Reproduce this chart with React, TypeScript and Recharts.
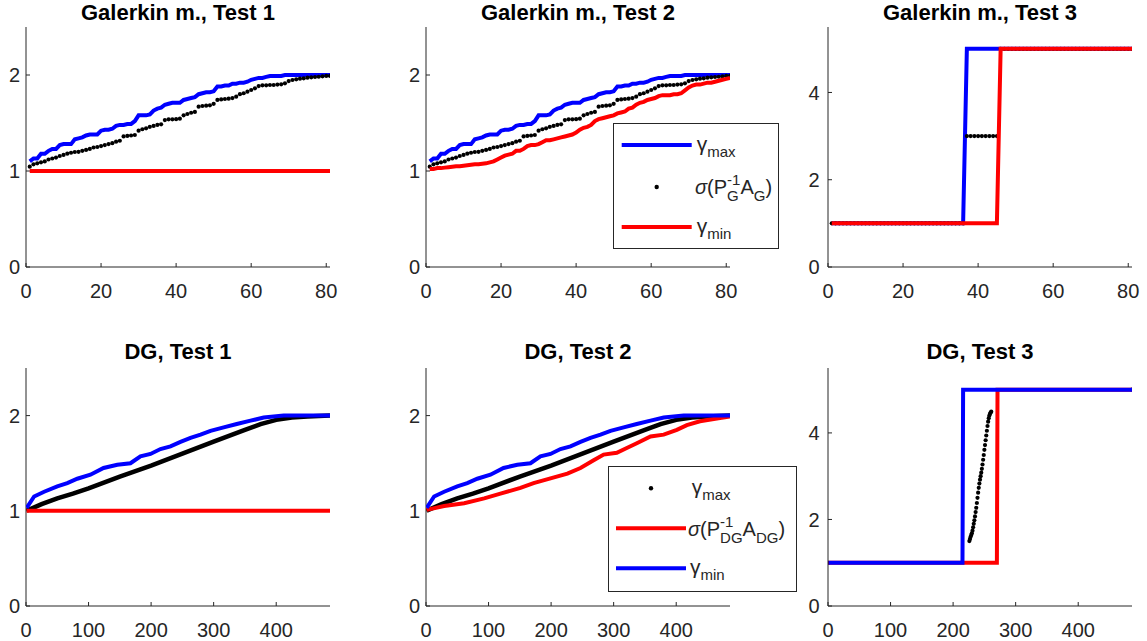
import React from 'react';
import { ComposedChart, Line, XAxis, YAxis } from 'recharts';

// ---------- Galerkin (81 eigenvalues, index 1..81) ----------
const G_SIGMA = [
  1.045, 1.07, 1.08, 1.09, 1.10, 1.12, 1.13, 1.14, 1.156, 1.167,
  1.18, 1.19, 1.198, 1.20, 1.21, 1.22, 1.23, 1.245, 1.25, 1.26,
  1.27, 1.28, 1.29, 1.305, 1.315, 1.36, 1.365, 1.37, 1.375, 1.42,
  1.435, 1.445, 1.46, 1.47, 1.48, 1.486, 1.53, 1.538, 1.538, 1.54,
  1.545, 1.58, 1.594, 1.607, 1.615, 1.67, 1.677, 1.68, 1.684, 1.70,
  1.74, 1.746, 1.75, 1.753, 1.76, 1.774, 1.80, 1.81, 1.826, 1.844,
  1.861, 1.885, 1.892, 1.892, 1.896, 1.896, 1.90, 1.903, 1.913, 1.937,
  1.948, 1.955, 1.962, 1.965, 1.972, 1.976, 1.979, 1.982, 1.986, 1.99,
  1.99,
];
const G_GAMMA_MAX = [
  1.10, 1.13, 1.13, 1.18, 1.18, 1.21, 1.23, 1.23, 1.27, 1.28,
  1.28, 1.28, 1.33, 1.34, 1.35, 1.37, 1.38, 1.38, 1.38, 1.42,
  1.43, 1.43, 1.44, 1.47, 1.48, 1.48, 1.49, 1.49, 1.52, 1.58,
  1.58, 1.58, 1.59, 1.63, 1.65, 1.66, 1.69, 1.70, 1.71, 1.71,
  1.71, 1.74, 1.75, 1.76, 1.77, 1.80, 1.81, 1.82, 1.82, 1.83,
  1.88, 1.88, 1.89, 1.89, 1.91, 1.91, 1.92, 1.92, 1.93, 1.95,
  1.96, 1.97, 1.97, 1.98, 1.99, 1.99, 1.99, 1.99, 2.0, 2.0,
  2.0, 2.0, 2.0, 2.0, 2.0, 2.0, 2.0, 2.0, 2.0, 2.0,
  2.0,
];
const G2_GAMMA_MIN = [
  1.02, 1.02, 1.03, 1.03, 1.035, 1.04, 1.045, 1.05, 1.05, 1.055,
  1.06, 1.065, 1.07, 1.07, 1.075, 1.08, 1.09, 1.10, 1.12, 1.14,
  1.16, 1.17, 1.18, 1.21, 1.21, 1.23, 1.26, 1.27, 1.27, 1.28,
  1.30, 1.32, 1.32, 1.33, 1.34, 1.35, 1.36, 1.37, 1.38, 1.40,
  1.43, 1.45, 1.46, 1.48, 1.52, 1.54, 1.55, 1.56, 1.57, 1.58,
  1.60, 1.61, 1.62, 1.65, 1.66, 1.69, 1.71, 1.72, 1.74, 1.75,
  1.76, 1.78, 1.79, 1.79, 1.79, 1.80, 1.80, 1.81, 1.84, 1.87,
  1.89, 1.90, 1.90, 1.91, 1.92, 1.92, 1.93, 1.94, 1.95, 1.96,
  1.97,
];
const G1_GMIN_X = [1, 81];
const G1_GMIN_Y = [1, 1];
const G3_SIGMA = [
  1, 1, 1, 1, 1, 1, 1, 1, 1, 1, 1, 1, 1, 1, 1, 1, 1, 1,
  1, 1, 1, 1, 1, 1, 1, 1, 1, 1, 1, 1, 1, 1, 1, 1, 1, 1,
  3, 3, 3, 3, 3, 3, 3, 3, 3,
  5, 5, 5, 5, 5, 5, 5, 5, 5, 5, 5, 5, 5, 5, 5, 5, 5, 5,
  5, 5, 5, 5, 5, 5, 5, 5, 5, 5, 5, 5, 5, 5, 5, 5, 5, 5,
];
const G3_GMAX_X = [1, 36, 37, 81];
const G3_GMAX_Y = [1, 1, 5, 5];
const G3_GMIN_X = [1, 45, 46, 81];
const G3_GMIN_Y = [1, 1, 5, 5];

// ---------- DG (486 eigenvalues) ----------
const DG_SIGMA_X = [1, 25, 50, 75, 100, 150, 200, 250, 300, 350, 375, 400, 425, 450, 486];
const DG_SIGMA_Y = [1.0, 1.07, 1.13, 1.18, 1.236, 1.36, 1.475, 1.6, 1.727, 1.85, 1.91, 1.955, 1.98, 1.99, 2.0];
const DG_GMAX_X = [1, 13, 29, 50, 66, 82, 103, 124, 146, 167, 183, 199, 215, 231, 247, 263, 279, 295, 316, 337, 359, 380, 412, 486];
const DG_GMAX_Y = [1.03, 1.15, 1.2, 1.256, 1.29, 1.337, 1.379, 1.45, 1.484, 1.5, 1.572, 1.597, 1.649, 1.677, 1.723, 1.765, 1.8, 1.84, 1.877, 1.912, 1.947, 1.98, 2.0, 2.0];
const DG1_GMIN_X = [1, 486];
const DG1_GMIN_Y = [1, 1];
const DG2_GMIN_X = [1, 29, 61, 93, 119, 151, 172, 199, 226, 247, 268, 284, 305, 321, 337, 359, 380, 401, 417, 438, 465, 486];
const DG2_GMIN_Y = [1.01, 1.05, 1.08, 1.13, 1.18, 1.24, 1.29, 1.34, 1.39, 1.45, 1.53, 1.59, 1.61, 1.66, 1.71, 1.78, 1.8, 1.85, 1.9, 1.94, 1.97, 1.99];
const DG3_SIGMA_X = [
  1, 226, 227, 228, 229, 230, 231, 232, 233, 234, 235, 236, 237, 238, 239, 240, 241, 242, 243,
  244, 245, 246, 247, 248, 249, 250, 251, 252, 253, 254, 255, 256, 257, 258, 259, 260, 261, 486,
];
const DG3_SIGMA_Y = [
  1, 1.5, 1.55, 1.6, 1.64, 1.68, 1.74, 1.82, 1.9, 1.98, 2.07, 2.17, 2.27, 2.38, 2.5, 2.62, 2.73, 2.83, 2.92,
  3.0, 3.08, 3.17, 3.27, 3.38, 3.49, 3.61, 3.72, 3.83, 3.94, 4.05, 4.16, 4.26, 4.34, 4.4, 4.44, 4.47, 4.49, 5,
];
const DG3_GMAX_X = [1, 215, 216, 486];
const DG3_GMAX_Y = [1, 1, 5, 5];
const DG3_GMIN_X = [1, 270, 271, 486];
const DG3_GMIN_Y = [1, 1, 5, 5];

// ---------- axes ----------
const G_XTICKS = [0, 20, 40, 60, 80];
const DG_XTICKS = [0, 100, 200, 300, 400];
const Y_TICKS_12 = [0, 1, 2];
const Y_TICKS_5 = [0, 2, 4];

const BLUE = '#0000ff';
const RED = '#ff0000';
const AX = '#262626';
const FONT = '"Liberation Sans", Arial, Helvetica, sans-serif';
const TICK_FS = 20;

const fromIndex = (ys: number[]) => ys.map((y, i) => ({ x: i + 1, y }));
const fromXY = (xs: number[], ys: number[]) => xs.map((x, i) => ({ x, y: ys[i] }));

const XTick = (props: any) => {
  const { x, y, payload } = props;
  return (
    <g>
      <line x1={x} y1={y} x2={x} y2={y - 4} stroke={AX} strokeWidth={1} />
      <text x={x} y={y + 30.5} textAnchor="middle" fill={AX} fontSize={TICK_FS} fontFamily={FONT}>
        {payload.value}
      </text>
    </g>
  );
};

const makeYTick = (gap: number) => (props: any) => {
  const { x, y, payload } = props;
  return (
    <g>
      <line x1={x} y1={y} x2={x + 4} y2={y} stroke={AX} strokeWidth={1} />
      <text x={x - gap} y={y} dy="0.36em" textAnchor="end" fill={AX} fontSize={TICK_FS} fontFamily={FONT}>
        {payload.value}
      </text>
    </g>
  );
};

const DotShape = (props: any) => {
  const { cx, cy, index } = props;
  if (cx == null || cy == null) return <g key={`e${index}`} />;
  return <circle key={`d${index}`} cx={cx} cy={cy} r={2.1} fill="#000" stroke="none" />;
};

const lineEl = (key: string, data: any[], color: string, width = 4) => (
  <Line
    key={key}
    data={data}
    dataKey="y"
    type="linear"
    stroke={color}
    strokeWidth={width}
    dot={false}
    activeDot={false}
    isAnimationActive={false}
  />
);
// marker-only series (MATLAB '.' style): no connecting stroke, black dots
const dotsEl = (key: string, data: any[]) => (
  <Line
    key={key}
    data={data}
    dataKey="y"
    type="linear"
    stroke="none"
    strokeWidth={0}
    dot={DotShape}
    activeDot={false}
    isAnimationActive={false}
  />
);

type PanelProps = {
  left: number;
  top: number;
  w: number;
  h: number;
  xMax: number;
  xTicks: number[];
  yMax: number;
  yTicks: number[];
  title: string;
  titleBase: number;
  gap: number;
  layers: React.ReactNode[][]; // drawn bottom to top
};

const ML = 45;
const MR = 20;
const MT = 6;
const MB = 45;

function Panel(p: PanelProps) {
  return (
    <>
      <svg
        style={{ position: 'absolute', left: p.left, top: p.titleBase - 20, overflow: 'visible' }}
        width={p.w}
        height={26}
      >
        <text
          x={p.w / 2}
          y={20}
          textAnchor="middle"
          fontFamily={FONT}
          fontWeight="bold"
          fontSize={22}
          fill="#000"
        >
          {p.title}
        </text>
      </svg>
      {p.layers.map((series, li) => (
        <div key={li} style={{ position: 'absolute', left: p.left - ML, top: p.top - MT }}>
          <ComposedChart
            width={p.w + ML + MR}
            height={p.h + MT + MB}
            margin={{ top: MT, right: MR, left: 0, bottom: 0 }}
          >
            <XAxis
              type="number"
              dataKey="x"
              domain={[0, p.xMax]}
              ticks={p.xTicks}
              interval={0}
              height={MB}
              tickSize={0}
              tickMargin={0}
              tickLine={false}
              axisLine={li === 0 ? { stroke: AX, strokeWidth: 1 } : false}
              tick={li === 0 ? XTick : false}
              allowDataOverflow
            />
            <YAxis
              type="number"
              dataKey="y"
              domain={[0, p.yMax]}
              ticks={p.yTicks}
              interval={0}
              width={ML}
              tickSize={0}
              tickMargin={0}
              tickLine={false}
              axisLine={li === 0 ? { stroke: AX, strokeWidth: 1 } : false}
              tick={li === 0 ? makeYTick(p.gap) : false}
              allowDataOverflow
            />
            {series}
          </ComposedChart>
        </div>
      ))}
    </>
  );
}

type Entry = { kind: 'line' | 'dot'; color: string; y: number; x1: number; x2: number; labelX: number; label: React.ReactNode; base: number };

const LEG_FS = 20;

function LegendBox({ left, top, w, h, entries }: { left: number; top: number; w: number; h: number; entries: Entry[] }) {
  return (
    <div
      style={{
        position: 'absolute',
        left,
        top,
        width: w,
        height: h,
        boxSizing: 'border-box',
        border: `1px solid ${AX}`,
        background: '#fff',
        fontFamily: FONT,
        color: AX,
      }}
    >
      <svg style={{ position: 'absolute', left: -1, top: -1 }} width={w} height={h}>
        {entries.map((e, i) =>
          e.kind === 'line' ? (
            <line key={i} x1={e.x1} y1={e.y} x2={e.x2} y2={e.y} stroke={e.color} strokeWidth={4} />
          ) : (
            <circle key={i} cx={(e.x1 + e.x2) / 2} cy={e.y} r={2.2} fill={e.color} />
          )
        )}
      </svg>
      {entries.map((e, i) => (
        <div
          key={i}
          style={{
            position: 'absolute',
            left: e.labelX - 1,
            top: e.y - 1 + e.base - 18.7,
            fontSize: LEG_FS,
            lineHeight: '23px',
            whiteSpace: 'nowrap',
          }}
        >
          {e.label}
        </div>
      ))}
    </div>
  );
}

const Gamma = ({ sub }: { sub: string }) => (
  <span>
    <span style={{ fontSize: 21 }}>γ</span>
    <span style={{ fontSize: 15, position: 'relative', top: 6 }}>{sub}</span>
  </span>
);

const Sigma = ({ sub }: { sub: string }) => (
  <span>
    <span style={{ fontStyle: 'italic' }}>σ</span>(P
    <span
      style={{
        display: 'inline-flex',
        flexDirection: 'column',
        position: 'relative',
        top: -9,
        fontSize: 15,
        lineHeight: '16px',
      }}
    >
      <span>-1</span>
      <span>{sub}</span>
    </span>
    A<span style={{ fontSize: 15, position: 'relative', top: 7 }}>{sub}</span>)
  </span>
);

export default function App() {
  const gSigma = fromIndex(G_SIGMA);
  const gMax = fromIndex(G_GAMMA_MAX);
  const dgSigma = fromXY(DG_SIGMA_X, DG_SIGMA_Y);
  const dgMax = fromXY(DG_GMAX_X, DG_GMAX_Y);

  return (
    <div
      style={{
        position: 'absolute',
        left: 0,
        top: 0,
        width: 1147,
        height: 641,
        background: '#fff',
        overflow: 'hidden',
        fontFamily: FONT,
      }}
    >
      <Panel
        left={26} top={27} w={304} h={240} xMax={81} xTicks={G_XTICKS} yMax={2.5} yTicks={Y_TICKS_12}
        title="Galerkin m., Test 1" titleBase={19.5} gap={6}
        layers={[
          [lineEl('b', gMax, BLUE)],
          [dotsEl('s', gSigma)],
          [lineEl('r', fromXY(G1_GMIN_X, G1_GMIN_Y), RED)],
        ]}
      />
      <Panel
        left={426} top={27} w={304} h={240} xMax={81} xTicks={G_XTICKS} yMax={2.5} yTicks={Y_TICKS_12}
        title="Galerkin m., Test 2" titleBase={19.5} gap={6}
        layers={[
          [lineEl('b', gMax, BLUE)],
          [dotsEl('s', gSigma)],
          [lineEl('r', fromIndex(G2_GAMMA_MIN), RED)],
        ]}
      />
      <Panel
        left={828} top={27} w={304} h={240} xMax={81} xTicks={G_XTICKS} yMax={5.5} yTicks={Y_TICKS_5}
        title="Galerkin m., Test 3" titleBase={19.5} gap={8.5}
        layers={[
          [lineEl('b', fromXY(G3_GMAX_X, G3_GMAX_Y), BLUE)],
          [dotsEl('s', fromIndex(G3_SIGMA))],
          [lineEl('r', fromXY(G3_GMIN_X, G3_GMIN_Y), RED)],
        ]}
      />
      <Panel
        left={26} top={368} w={304} h={238} xMax={486} xTicks={DG_XTICKS} yMax={2.5} yTicks={Y_TICKS_12}
        title="DG, Test 1" titleBase={359} gap={6}
        layers={[
          [lineEl('s', dgSigma, '#000', 4.5)],
          [lineEl('r', fromXY(DG1_GMIN_X, DG1_GMIN_Y), RED), lineEl('b', dgMax, BLUE)],
        ]}
      />
      <Panel
        left={426} top={368} w={304} h={238} xMax={486} xTicks={DG_XTICKS} yMax={2.5} yTicks={Y_TICKS_12}
        title="DG, Test 2" titleBase={359} gap={6}
        layers={[
          [lineEl('s', dgSigma, '#000', 4.5)],
          [lineEl('r', fromXY(DG2_GMIN_X, DG2_GMIN_Y), RED), lineEl('b', dgMax, BLUE)],
        ]}
      />
      <Panel
        left={828} top={368} w={304} h={238} xMax={486} xTicks={DG_XTICKS} yMax={5.5} yTicks={Y_TICKS_5}
        title="DG, Test 3" titleBase={359} gap={8.5}
        layers={[
          [dotsEl('s', fromXY(DG3_SIGMA_X, DG3_SIGMA_Y))],
          [lineEl('r', fromXY(DG3_GMIN_X, DG3_GMIN_Y), RED), lineEl('b', fromXY(DG3_GMAX_X, DG3_GMAX_Y), BLUE)],
        ]}
      />

      <LegendBox
        left={613} top={123} w={166} h={126}
        entries={[
          { kind: 'line', color: BLUE, y: 22, x1: 8.7, x2: 78.7, labelX: 83.7, base: 5.5, label: <Gamma sub="max" /> },
          { kind: 'dot', color: '#000', y: 64, x1: 8.7, x2: 78.7, labelX: 82, base: 8, label: <Sigma sub="G" /> },
          { kind: 'line', color: RED, y: 104, x1: 8.7, x2: 78.7, labelX: 83.7, base: 5.5, label: <Gamma sub="min" /> },
        ]}
      />
      <LegendBox
        left={608} top={466} w={189} h={126}
        entries={[
          { kind: 'dot', color: '#000', y: 22.3, x1: 8, x2: 78, labelX: 83.7, base: 5.5, label: <Gamma sub="max" /> },
          { kind: 'line', color: RED, y: 62.3, x1: 8, x2: 78, labelX: 80, base: 8, label: <Sigma sub="DG" /> },
          { kind: 'line', color: BLUE, y: 102.3, x1: 8, x2: 78, labelX: 82, base: 5.5, label: <Gamma sub="min" /> },
        ]}
      />
    </div>
  );
}
